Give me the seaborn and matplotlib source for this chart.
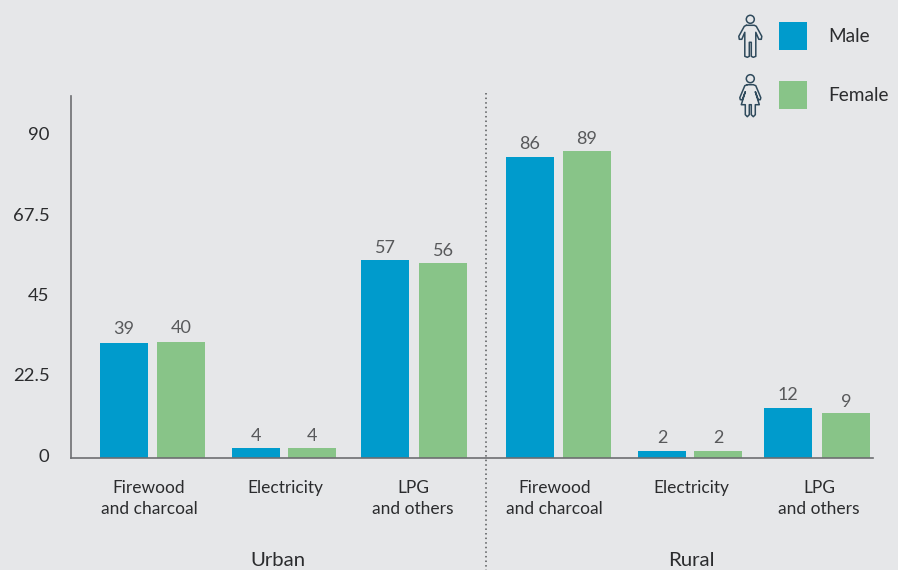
import matplotlib
matplotlib.use("Agg")
import matplotlib.pyplot as plt
import pandas as pd
import seaborn as sns
from matplotlib.transforms import offset_copy

# ---------- data ----------
categories = ["Urban firewood", "Urban electricity", "Urban LPG",
              "Rural firewood", "Rural electricity", "Rural LPG"]
tick_labels = ["Firewood\nand charcoal", "Electricity", "LPG\nand others",
               "Firewood\nand charcoal", "Electricity", "LPG\nand others"]
male_heights = [32.2, 2.8, 55.5, 84.4, 2.0, 14.0]
female_heights = [32.5, 2.8, 54.7, 86.0, 2.0, 12.6]
male_labels = ["39", "4", "57", "86", "2", "12"]
female_labels = ["40", "4", "56", "89", "2", "9"]
y_ticks = [0, 22.5, 45, 67.5, 90]
y_tick_labels = ["0", "22.5", "45", "67.5", "90"]
groups = ["Urban", "Rural"]

# ---------- layout (pixels of the 898x570 canvas) ----------
W, H = 898, 570
AX_L, AX_R, AX_T, AX_B = 71, 873, 96, 458
PX_PER_UNIT = 3.567
male_left = [100, 232, 361, 506, 638, 764]
female_left = [157, 288, 419, 563, 694, 822]
BAR_W = 48
tick_px = [149, 285.5, 413, 554.5, 691, 819]
male_gap = [14.5, 12.5, 12.5, 13, 12.5, 13.5]
female_gap = [14.5, 12.5, 11.5, 12.5, 12.5, 11.5]
BG, BLUE, GREEN = "#E6E7E9", "#009BCC", "#88C488"
DARK, MID, AXIS = "#2B2C2E", "#58595B", "#6D6E71"

sns.set_theme(style="white")
plt.rcParams["font.family"] = ["Lato", "DejaVu Sans"]

df = pd.DataFrame({
    "category": categories * 2,
    "sex": ["Male"] * 6 + ["Female"] * 6,
    "value": male_heights + female_heights,
})

fig = plt.figure(figsize=(W / 100, H / 100), dpi=100, facecolor=BG)
ax = fig.add_axes([AX_L / W, 1 - AX_B / H, (AX_R - AX_L) / W, (AX_B - AX_T) / H], facecolor="none")

sns.barplot(data=df, x="category", y="value", hue="sex", order=categories,
            hue_order=["Male", "Female"], palette=[BLUE, GREEN], saturation=1,
            errorbar=None, linewidth=0, ax=ax)
handles, labels = ax.get_legend_handles_labels()
ax.get_legend().remove()

ax.set_xlim(AX_L, AX_R)
ax.set_ylim(0, (AX_B - AX_T) / PX_PER_UNIT)

for container, lefts, texts, gaps in ((ax.containers[0], male_left, male_labels, male_gap),
                                      (ax.containers[1], female_left, female_labels, female_gap)):
    for bar, left, txt, gap in zip(container, lefts, texts, gaps):
        bar.set_x(left)
        bar.set_width(BAR_W)
        ax.annotate(txt, (left + BAR_W / 2, bar.get_height()), xytext=(0, gap * 0.72),
                    textcoords="offset points", ha="center", va="center",
                    fontsize=13, color=MID)

ax.set_xticks(tick_px, tick_labels)
ax.set_yticks(y_ticks, y_tick_labels)
ax.set_xlabel("")
ax.set_ylabel("")
ax.tick_params(axis="x", length=0, pad=15.5, labelsize=12.5, labelcolor=DARK)
ax.tick_params(axis="y", length=0, pad=15.5, labelsize=13.3, labelcolor=DARK)
for t in ax.get_xticklabels():
    t.set_linespacing(1.45)
for t in ax.get_yticklabels():
    t.set_transform(offset_copy(t.get_transform(), fig=fig, y=3, units="dots"))
sns.despine(ax=ax)
for side in ("left", "bottom"):
    ax.spines[side].set_color(AXIS)
    ax.spines[side].set_linewidth(1.2)

# Legend with the swatches and names
leg = ax.legend(handles, labels, loc="upper left", frameon=False, fontsize=13.7,
                handlelength=1.47, handleheight=1.887, handletextpad=1.1,
                labelspacing=1.65, borderpad=0, borderaxespad=0,
                bbox_to_anchor=(779 / W, 1 - 22 / H), bbox_transform=fig.transFigure)
for t in leg.get_texts():
    t.set_color(DARK)

# Overlay in canvas pixels: divider, group names, person icons
ov = fig.add_axes([0, 0, 1, 1], facecolor="none")
ov.set_xlim(0, W)
ov.set_ylim(H, 0)
ov.axis("off")
ov.plot([485.5, 485.5], [93, H], color="#555759", lw=1.1, ls=(0, (1, 2)))
for name, x in zip(groups, (278, 691)):
    ov.text(x, 560, name, ha="center", va="center", fontsize=14.7, color=DARK)

male_icon = [(-4, 6), (4, 6), (6, 7), (11.5, 17), (11, 20), (8.5, 20), (5.5, 13), (5.5, 37),
             (3, 38), (1, 37), (1, 23), (-1, 23), (-1, 37), (-3, 38), (-5.5, 37), (-5.5, 13),
             (-8.5, 20), (-11, 20), (-11.5, 17), (-6, 7), (-4, 6)]
female_icon = [(-3, 6), (3, 6), (5.5, 7), (10.5, 19), (10, 21), (8, 21), (5, 13), (9, 26), (5, 26),
               (5, 36), (3, 38), (1, 36), (1, 26), (-1, 26), (-1, 36), (-3, 38), (-5, 36), (-5, 26),
               (-9, 26), (-5, 13), (-8, 21), (-10, 21), (-10.5, 19), (-5.5, 7), (-3, 6)]
ICON = "#2F4A5C"
for pts, cx, cy in ((male_icon, 750.3, 19.3), (female_icon, 750.3, 78.7)):
    ov.plot([cx + p[0] for p in pts], [cy + p[1] for p in pts], color=ICON, lw=1.1)
    ov.add_patch(plt.Circle((cx, cy), 4, fill=False, ec=ICON, lw=1.1))

fig.savefig("out.png", dpi=100, facecolor=BG)
